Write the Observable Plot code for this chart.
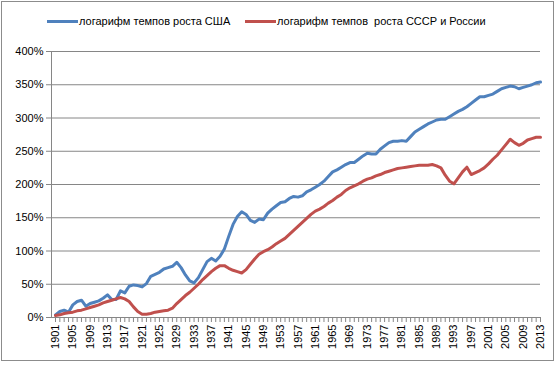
<!DOCTYPE html>
<html>
<head>
<meta charset="utf-8">
<script src="https://cdn.jsdelivr.net/npm/d3@7"></script>
<script src="https://cdn.jsdelivr.net/npm/@observablehq/plot@0.6"></script>
<style>
  html, body { margin: 0; padding: 0; background: #fff; }
  #wrap { position: relative; width: 558px; height: 366px; font-family: "Liberation Sans", Arial, sans-serif; }
  #border { position: absolute; left: 1px; top: 1px; width: 551px; height: 358px; border: 1px solid #8c8c8c; pointer-events: none; }
  #legend { position: relative; height: 40px; font-size: 11px; color: #000; }
  .item { position: absolute; top: 15px; white-space: pre; }
  .sw { display: inline-block; width: 31px; height: 3px; vertical-align: middle; margin-right: 1px; position: relative; top: -1px; }
  #chart svg { display: block; }
</style>
</head>
<body>
<div id="wrap">
  <div id="legend"></div>
  <div id="chart"></div>
  <div id="border"></div>
</div>
<script>
const years = d3.range(1901, 2014);
const seriesNames = ["логарифм темпов роста США", "логарифм темпов  роста СССР и России"];
const colors = ["#4F81BD", "#C0504D"];
const usa = [
  4, 9, 11, 8, 19, 24, 26, 17, 21, 23,
  25, 29, 34, 27, 27, 40, 37, 47, 49, 48,
  46, 51, 62, 65, 68, 73, 75, 77, 83, 75,
  64, 55, 52, 60, 72, 84, 89, 85, 92, 103,
  122, 140, 152, 159, 155, 146, 143, 148, 147, 157,
  163, 168, 173, 174, 179, 182, 181, 183, 189, 192,
  196, 200, 205, 212, 219, 222, 226, 230, 233, 233,
  238, 243, 247, 246, 246, 253, 258, 263, 265, 265,
  266, 265, 272, 279, 283, 287, 291, 294, 297, 298,
  298, 302, 306, 310, 313, 317, 322, 327, 332, 332,
  334, 336, 340, 344, 346, 348, 347, 344, 346, 348,
  350, 353, 354
];
const ussr = [
  3, 4, 6, 7, 8, 10, 11, 13, 15, 17,
  19, 22, 24, 26, 28, 30, 28, 24, 16, 9,
  5, 5, 6, 8, 9, 10, 11, 14, 21, 27,
  33, 38, 44, 50, 57, 63, 69, 74, 78, 78,
  74, 71, 69, 67, 72, 80, 88, 95, 99, 102,
  106, 111, 115, 119, 125, 131, 137, 143, 149, 155,
  160, 163, 167, 172, 176, 181, 185, 191, 195, 198,
  201, 205, 208, 210, 213, 215, 218, 220, 222, 224,
  225, 226, 227, 228, 229, 229, 229, 230, 228, 225,
  214, 205, 201, 210, 219, 226, 215, 218, 221, 225,
  231, 238, 244, 252, 260, 268, 263, 259, 262, 267,
  269, 271, 271
];
const yTicks = d3.range(0, 401, 50);
const xLabelYears = d3.range(1901, 2014, 4);

const rows = [];
years.forEach((yr, i) => {
  rows.push({year: yr, value: usa[i], series: seriesNames[0]});
  rows.push({year: yr, value: ussr[i], series: seriesNames[1]});
});

// legend
const legend = document.getElementById("legend");
const legendLeft = [47, 245];
seriesNames.forEach((name, i) => {
  const d = document.createElement("div");
  d.className = "item";
  d.style.left = legendLeft[i] + "px";
  const sw = document.createElement("span");
  sw.className = "sw";
  sw.style.background = colors[i];
  d.appendChild(sw);
  d.appendChild(document.createTextNode(name));
  legend.appendChild(d);
});

const chart = Plot.plot({
  width: 558,
  height: 326,
  marginLeft: 51,
  marginRight: 18,
  marginTop: 11,
  marginBottom: 49,
  style: {fontFamily: "Liberation Sans, Arial, sans-serif", fontSize: "11px", color: "#000", background: "#fff"},
  x: {type: "linear", domain: [1901, 2013], range: [55, 540], label: null},
  y: {domain: [0, 400], label: null},
  color: {domain: seriesNames, range: colors},
  marks: [
    Plot.ruleY(yTicks, {stroke: "#868686", strokeWidth: 1, strokeOpacity: 1}),
    Plot.frame({anchor: "left", stroke: "#868686", strokeOpacity: 1}),
    Plot.axisY({ticks: yTicks, tickFormat: d => d + "%", tickSize: 5, tickPadding: 3, stroke: "#868686", fill: "#000", fontSize: 11, label: null}),
    Plot.axisX({ticks: years, tickFormat: () => "", tickSize: 5, stroke: "#868686", label: null}),
    Plot.axisX({ticks: xLabelYears, tickFormat: d => String(d), tickSize: 0, tickPadding: 7, tickRotate: -90, fill: "#000", fontSize: 11, label: null}),
    Plot.line(rows, {x: "year", y: "value", z: "series", stroke: "series", strokeWidth: 3, curve: "linear"})
  ]
});
document.getElementById("chart").appendChild(chart);
</script>
</body>
</html>
